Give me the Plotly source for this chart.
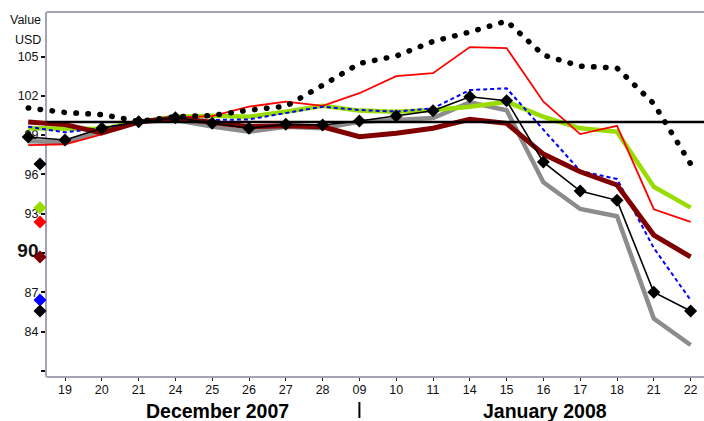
import plotly.graph_objects as go

# ---- data ----
dates = ['18', '19', '20', '21', '24', '25', '26', '27', '28', '09', '10', '11',
         '14', '15', '16', '17', '18', '21', '22']
x_pos = list(range(-1, len(dates) - 1))   # first point (18 Dec) sits left of the frame
tick_labels = dates[1:]

black_dotted = [101.07, 100.73, 100.57, 100.05, 100.4, 100.5, 100.9, 101.2, 102.8, 104.47,
                105.04, 106.15, 106.87, 107.71, 105.11, 104.27, 104.12, 101.4, 96.8]
gray_line = [98.54, 98.47, 99.31, 100.0, 100.15, 99.65, 99.26, 99.64, 99.52, 100.02,
             100.15, 100.3, 101.5, 100.9, 95.4, 93.36, 92.8, 85.0, 82.97]
green_line = [99.52, 99.45, 99.46, 100.0, 100.4, 100.48, 100.4, 100.79, 101.24, 100.87,
              100.79, 100.92, 101.17, 101.55, 100.4, 99.52, 99.26, 95.06, 93.46]
red_line = [98.24, 98.3, 99.05, 100.0, 100.36, 100.45, 101.17, 101.55, 101.24, 102.2,
            103.5, 103.73, 105.72, 105.65, 101.55, 99.08, 99.71, 93.34, 92.37]
blue_dashed = [99.64, 99.21, 99.54, 100.0, 100.23, 100.15, 100.2, 100.66, 101.17, 100.92,
               100.79, 101.05, 102.44, 102.57, 99.38, 96.26, 95.65, 90.38, 86.4]
darkred_line = [100.0, 99.8, 99.16, 100.0, 100.3, 100.0, 99.64, 99.72, 99.64, 98.88,
                99.14, 99.52, 100.21, 99.9, 97.55, 96.2, 95.19, 91.37, 89.7]
black_diamond = [98.85, 98.63, 99.53, 100.02, 100.33, 99.9, 99.52, 99.82, 99.77, 100.08,
                 100.46, 100.86, 101.93, 101.63, 96.94, 94.73, 94.02, 87.0, 85.57]
base_level = 100

y_tick_vals = [81, 84, 87, 90, 93, 96, 99, 102, 105]
y_tick_text = ['', '84', '87', '<span style="font-size:19px"><b>90</b></span>',
               '93', '96', '99', '102', '105']

# ---- figure ----
fig = go.Figure()

def line(y, color, width, dash='solid', mode='lines', marker=None):
    fig.add_trace(go.Scatter(x=x_pos, y=y, mode=mode,
                             line=dict(color=color, width=width, dash=dash),
                             marker=marker, hoverinfo='skip', showlegend=False))

line(gray_line, '#8c8c8c', 4.5)
line(green_line, '#99dd00', 4.5)
line(red_line, '#ff0000', 1.8)
line(blue_dashed, '#0000ff', 2, dash='4px,3px')
line(darkred_line, '#800000', 5)

fig.add_trace(go.Scatter(x=[-0.5, 17.5], y=[base_level, base_level], mode='lines',
                         line=dict(color='#000000', width=2.6),
                         hoverinfo='skip', showlegend=False))

line(black_diamond, '#000000', 1.6, mode='lines+markers',
     marker=dict(symbol='diamond', size=10, color='#000000'))

line(black_dotted, '#000000', 5.5, dash='0.5px,11.5px')

# last values echoed on the y axis
end_x = -0.68
end_series = [(black_dotted, '#000000'), (green_line, '#99dd00'), (red_line, '#ff0000'),
              (darkred_line, '#800000'), (blue_dashed, '#0000ff'), (black_diamond, '#000000')]
for s, c in end_series:
    fig.add_trace(go.Scatter(x=[end_x], y=[s[-1]], mode='markers',
                             marker=dict(symbol='diamond', size=10, color=c),
                             hoverinfo='skip', showlegend=False))

W, H = 704, 421
m_t, m_b = 12, 44
px_left = 46
frame_col = '#a3a3b5'

fig.update_layout(
    width=W, height=H,
    margin=dict(l=0, r=0, t=m_t, b=m_b, pad=0),
    paper_bgcolor='white', plot_bgcolor='white',
    font=dict(family='Liberation Sans, Arial, sans-serif', size=12, color='#111111'),
    xaxis=dict(range=[-65 / 36.8, 639 / 36.8], tickvals=list(range(len(tick_labels))),
               ticktext=tick_labels, showgrid=False, zeroline=False, showline=False,
               ticks='outside', ticklen=3, tickcolor='#222222', tickwidth=1,
               ticklabelstandoff=-2, tickfont=dict(size=12.5)),
    yaxis=dict(range=[80.53, 108.4], tickvals=y_tick_vals, ticktext=y_tick_text,
               anchor='free', position=px_left / W, showgrid=False, zeroline=False,
               showline=True, linecolor=frame_col, linewidth=2,
               ticks='outside', ticklen=4, tickcolor='#111111', tickwidth=2,
               tickfont=dict(size=12.5), layer='below traces'),
    shapes=[
        dict(type='line', xref='x', yref='paper', x0=-0.5, x1=17.5, y0=1, y1=1,
             line=dict(color=frame_col, width=2), layer='below'),
        dict(type='line', xref='x', yref='paper', x0=-0.5, x1=17.5, y0=0, y1=0,
             line=dict(color=frame_col, width=2), layer='below'),
        dict(type='line', xref='x', yref='paper', x0=8, x1=8,
             y0=-(402 - 377) / (H - m_t - m_b), y1=-(418 - 377) / (H - m_t - m_b),
             line=dict(color='#000000', width=2)),
    ],
    annotations=[
        dict(text='Value', xref='paper', yref='paper', x=43 / W, y=(377 - 20) / 365,
             xanchor='right', yanchor='middle', showarrow=False, font=dict(size=12.5)),
        dict(text='USD', xref='paper', yref='paper', x=43 / W, y=(377 - 40) / 365,
             xanchor='right', yanchor='middle', showarrow=False, font=dict(size=12.5)),
        dict(text='<b>December 2007</b>', xref='x', yref='paper', x=(217 - 65) / 36.8,
             y=-(411 - 377) / 365, xanchor='center', yanchor='middle', showarrow=False,
             font=dict(size=19.5, color='#000000')),
        dict(text='<b>January 2008</b>', xref='x', yref='paper', x=(545 - 65) / 36.8,
             y=-(411 - 377) / 365, xanchor='center', yanchor='middle', showarrow=False,
             font=dict(size=19.5, color='#000000')),
    ],
)

post = """
document.body.style.margin = '0';
document.body.style.overflow = 'hidden';
document.querySelectorAll('path.js-line').forEach(function(p){
  var d = p.style.strokeDasharray || '';
  if (d.indexOf('0.5px') === 0) { p.style.strokeLinecap = 'round'; }
});
"""
fig.write_html("out.html", post_script=post, config={'displayModeBar': False})
